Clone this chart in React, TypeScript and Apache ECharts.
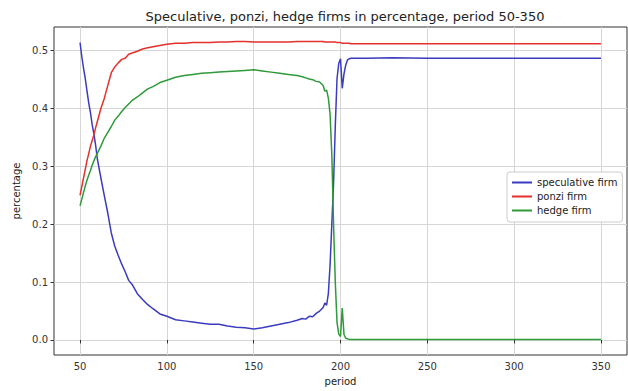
import React, { useEffect, useRef } from "react";
import * as echarts from "echarts";

const periods = [
  50, 51, 52, 53, 54, 55, 56, 57, 58, 59, 60, 62, 64, 66, 68, 70, 72, 74, 76, 78, 80, 83, 86, 89, 92, 96, 100,
  105, 110, 115, 120, 125, 130, 135, 140, 145, 150, 155, 160, 165, 170, 175,
  178, 180, 182, 184, 186, 188, 190, 191, 192, 193, 194, 195, 196, 197, 198, 199, 200, 201, 202, 203, 204, 205, 206, 208,
  215, 230, 250, 270, 290, 310, 330, 350,
];

const speculative = [
  0.514, 0.49, 0.47, 0.452, 0.43, 0.41, 0.393, 0.372, 0.356, 0.336, 0.312, 0.28, 0.249, 0.219, 0.185, 0.162, 0.146, 0.131, 0.118, 0.103, 0.096, 0.08, 0.07, 0.061, 0.054, 0.045, 0.041,
  0.035, 0.033, 0.031, 0.029, 0.027, 0.027, 0.024, 0.022, 0.021, 0.019, 0.021, 0.024, 0.027, 0.03, 0.034,
  0.037, 0.036, 0.041, 0.04, 0.046, 0.05, 0.056, 0.064, 0.06, 0.08, 0.13, 0.2, 0.27, 0.37, 0.452, 0.478, 0.486, 0.435, 0.46, 0.475, 0.484, 0.486, 0.487, 0.487,
  0.487, 0.488, 0.487, 0.487, 0.487, 0.487, 0.487, 0.487,
];

const ponzi = [
  0.25, 0.265, 0.28, 0.295, 0.31, 0.322, 0.335, 0.345, 0.355, 0.367, 0.378, 0.4, 0.418, 0.44, 0.462, 0.472, 0.479, 0.485, 0.487, 0.494, 0.496, 0.499, 0.503, 0.505, 0.507, 0.509, 0.511,
  0.513, 0.513, 0.514, 0.514, 0.514, 0.515, 0.515, 0.516, 0.516, 0.515, 0.515, 0.515, 0.515, 0.515, 0.516,
  0.516, 0.516, 0.516, 0.516, 0.516, 0.516, 0.516, 0.515, 0.515, 0.515, 0.515, 0.515, 0.515, 0.515, 0.514, 0.514, 0.514, 0.513, 0.513, 0.513, 0.513, 0.513, 0.512, 0.512,
  0.512, 0.512, 0.512, 0.512, 0.512, 0.512, 0.512, 0.512,
];

const hedge = [
  0.232, 0.243, 0.255, 0.266, 0.276, 0.285, 0.293, 0.302, 0.31, 0.317, 0.323, 0.335, 0.349, 0.359, 0.369, 0.38, 0.387, 0.395, 0.402, 0.408, 0.414, 0.42, 0.427, 0.434, 0.438, 0.445, 0.449,
  0.454, 0.457, 0.459, 0.461, 0.462, 0.463, 0.464, 0.465, 0.466, 0.467, 0.465, 0.463, 0.461, 0.459, 0.457,
  0.455, 0.453, 0.451, 0.45, 0.447, 0.446, 0.44, 0.43, 0.432, 0.418, 0.39, 0.32, 0.2, 0.1, 0.03, 0.01, 0.006, 0.055, 0.01, 0.003, 0.002, 0.001, 0.001, 0.001,
  0.001, 0.001, 0.001, 0.001, 0.001, 0.001, 0.001, 0.001,
];

const xTicks = [50, 100, 150, 200, 250, 300, 350];
const yTicks = [0, 0.1, 0.2, 0.3, 0.4, 0.5];

const seriesNames = ["speculative firm", "ponzi firm", "hedge firm"];
const colors = ["#3b3bbf", "#e3312d", "#2f9a3a"];

const FONT = "DejaVu Sans";

export default function App() {
  const ref = useRef<HTMLDivElement>(null);
  useEffect(() => {
    if (!ref.current) return;
    const chart = echarts.init(ref.current, undefined, { renderer: "svg" });
    const allSeries = [speculative, ponzi, hedge];
    chart.setOption({
      animation: false,
      backgroundColor: "#ffffff",
      title: {
        text: "Speculative, ponzi, hedge firms in percentage, period 50-350",
        left: 340,
        textAlign: "center",
        top: 5,
        textStyle: { fontFamily: FONT, fontSize: 13, fontWeight: "normal", color: "#222" },
      },
      grid: {
        left: 54,
        right: 1,
        top: 27,
        bottom: 29,
        show: true,
        borderColor: "#333",
        borderWidth: 1,
        backgroundColor: "transparent",
      },
      legend: {
        orient: "vertical",
        left: 507,
        top: 172,
        data: seriesNames,
        icon: "rect",
        itemWidth: 20,
        itemHeight: 2,
        itemGap: 1,
        padding: [4, 5, 5, 5],
        borderColor: "#cccccc",
        borderWidth: 1,
        borderRadius: 3,
        backgroundColor: "#ffffff",
        textStyle: { fontFamily: FONT, fontSize: 10, color: "#222", lineHeight: 13 },
      },
      xAxis: {
        type: "value",
        min: 35,
        max: 365,
        name: "period",
        nameLocation: "middle",
        nameGap: 21,
        nameTextStyle: { fontFamily: FONT, fontSize: 10, color: "#222" },
        axisLine: { show: false },
        axisTick: { show: true, length: 3.5, customValues: xTicks, lineStyle: { color: "#333" } },
        axisLabel: {
          customValues: xTicks,
          fontFamily: FONT,
          fontSize: 10,
          color: "#333",
          margin: 6,
        },
        splitLine: { show: true, lineStyle: { color: "#d6d6d6", width: 1 } },
      },
      yAxis: {
        type: "value",
        min: -0.026,
        max: 0.541,
        name: "percentage",
        nameLocation: "middle",
        nameGap: 33,
        nameTextStyle: { fontFamily: FONT, fontSize: 10, color: "#222" },
        axisLine: { show: false },
        axisTick: { show: true, length: 3.5, customValues: yTicks, lineStyle: { color: "#333" } },
        axisLabel: {
          customValues: yTicks,
          fontFamily: FONT,
          fontSize: 10,
          color: "#333",
          margin: 6,
          formatter: (v: number) => v.toFixed(1),
        },
        splitLine: { show: true, lineStyle: { color: "#d6d6d6", width: 1 } },
      },
      series: seriesNames.map((name, i) => ({
        name,
        type: "line",
        showSymbol: false,
        symbol: "none",
        color: colors[i],
        lineStyle: { width: 1.5, color: colors[i] },
        data: periods.map((p, j) => [p, allSeries[i][j]]),
      })),
    });
    return () => chart.dispose();
  }, []);
  return (
    <div
      ref={ref}
      style={{ position: "fixed", left: 0, top: 0, width: 628, height: 391 }}
    />
  );
}
